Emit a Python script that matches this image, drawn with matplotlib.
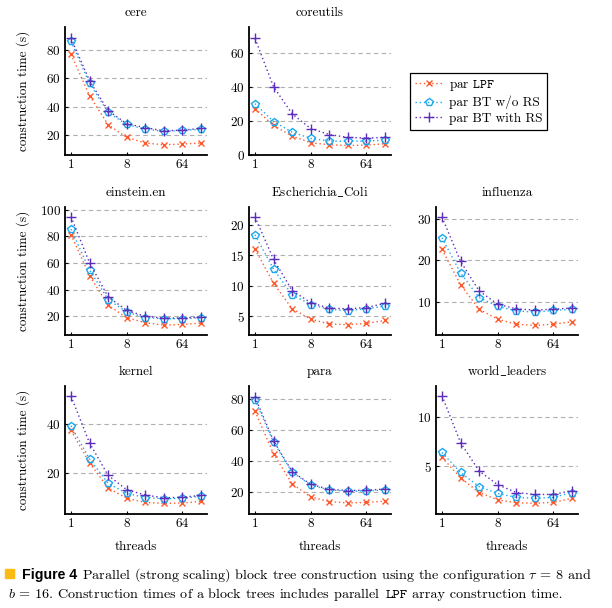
import matplotlib
matplotlib.use("Agg")
import matplotlib.pyplot as plt
from matplotlib.lines import Line2D
from matplotlib.patches import Rectangle

plt.rcParams["font.family"] = "serif"
plt.rcParams["font.serif"] = ["cmr10", "DejaVu Serif"]
plt.rcParams["mathtext.fontset"] = "cm"
plt.rcParams["axes.formatter.use_mathtext"] = True

threads = [1, 2, 4, 8, 16, 32, 64, 128]
series_names = ["par $\\mathtt{LPF}$", "par BT w/o RS", "par BT with RS"]
datasets = ["cere", "coreutils", "einstein.en", "Escherichia$\\_$Coli", "influenza",
            "kernel", "para", "world$\\_$leaders"]

# construction times (s): LPF, BT w/o RS, BT with RS
cere_lpf = [77.0, 47.7, 27.3, 18.4, 14.4, 13.2, 13.7, 14.4]
cere_bt = [85.9, 56.5, 35.9, 27.5, 24.2, 22.6, 23.3, 24.0]
cere_rs = [88.2, 58.2, 37.2, 28.0, 25.2, 23.0, 23.5, 24.7]

coreutils_lpf = [27.2, 17.3, 11.1, 7.2, 6.0, 5.6, 5.8, 6.6]
coreutils_bt = [30.1, 19.6, 13.4, 9.7, 8.2, 8.0, 8.2, 8.7]
coreutils_rs = [68.3, 40.0, 24.1, 15.5, 12.0, 10.3, 9.9, 10.3]

einstein_lpf = [81.3, 50.5, 28.3, 19.0, 15.2, 13.4, 13.9, 14.9]
einstein_bt = [85.4, 54.8, 32.6, 23.3, 19.0, 18.2, 18.2, 19.0]
einstein_rs = [94.7, 60.1, 34.6, 24.5, 20.0, 18.7, 18.7, 19.5]

ecoli_lpf = [16.0, 10.4, 6.2, 4.5, 3.7, 3.6, 3.8, 4.3]
ecoli_bt = [18.35, 12.7, 8.5, 6.9, 6.1, 5.9, 6.2, 6.65]
ecoli_rs = [21.3, 14.3, 9.2, 7.2, 6.3, 6.2, 6.4, 7.1]

influenza_lpf = [22.6, 14.1, 8.2, 5.8, 4.6, 4.3, 4.6, 5.2]
influenza_bt = [25.4, 16.9, 11.0, 8.9, 7.8, 7.5, 7.9, 8.2]
influenza_rs = [30.4, 19.7, 12.6, 9.4, 8.3, 8.0, 8.2, 8.5]

kernel_lpf = [37.3, 24.1, 13.9, 9.7, 8.0, 7.6, 7.8, 8.4]
kernel_bt = [39.2, 25.7, 15.8, 11.7, 10.0, 9.5, 9.7, 10.5]
kernel_rs = [51.3, 32.2, 19.0, 13.2, 11.0, 9.9, 10.1, 10.9]

para_lpf = [72.0, 44.5, 25.2, 16.8, 13.8, 12.9, 13.3, 14.0]
para_bt = [79.4, 52.0, 32.7, 24.5, 21.3, 20.4, 20.6, 21.3]
para_rs = [81.1, 52.9, 33.1, 24.9, 21.7, 20.9, 21.1, 21.9]

world_lpf = [5.9, 3.8, 2.3, 1.55, 1.25, 1.2, 1.3, 1.7]
world_bt = [6.4, 4.35, 2.9, 2.2, 1.8, 1.7, 1.8, 2.3]
world_rs = [12.2, 7.4, 4.5, 3.1, 2.3, 2.1, 2.1, 2.5]

all_series = [
    (cere_lpf, cere_bt, cere_rs),
    (coreutils_lpf, coreutils_bt, coreutils_rs),
    (einstein_lpf, einstein_bt, einstein_rs),
    (ecoli_lpf, ecoli_bt, ecoli_rs),
    (influenza_lpf, influenza_bt, influenza_rs),
    (kernel_lpf, kernel_bt, kernel_rs),
    (para_lpf, para_bt, para_rs),
    (world_lpf, world_bt, world_rs),
]
ylims = [(6, 96), (0, 75), (6, 102), (1.9, 22.9), (2.0, 32.8), (3.3, 55.4), (5.8, 88.2), (0.1, 13.2)]
yticks = [[20, 40, 60, 80], [0, 20, 40, 60], [20, 40, 60, 80, 100], [5, 10, 15, 20],
          [10, 20, 30], [20, 40], [20, 40, 60, 80], [5, 10]]

colors = ["#FF5A2E", "#1CA8EE", "#5B2DB8"]
markers = ["x", "p", "+"]
msizes = [4.2, 5.5, 6.5]

W, H = 612, 608
fig = plt.figure(figsize=(W / 100, H / 100), dpi=100)

col_left = [65, 249, 436]
row_top = [27, 207, 386]
aw, ah = 142, 128
slots = [(0, 0), (0, 1), (1, 0), (1, 1), (1, 2), (2, 0), (2, 1), (2, 2)]

for k, (r, c) in enumerate(slots):
    left, top = col_left[c], row_top[r]
    ax = fig.add_axes([left / W, 1 - (top + ah) / H, aw / W, ah / H])
    for s, ys in enumerate(all_series[k]):
        ax.plot(threads, ys, linestyle=(0, (1, 2)), lw=1.0, color=colors[s],
                marker=markers[s], ms=msizes[s], mew=1.0, fillstyle="none")
    ax.set_xscale("log", base=2)
    ax.set_xlim(0.8, 160)
    ax.set_xticks([1, 8, 64])
    ax.set_xticklabels(["1", "8", "64"])
    ax.minorticks_off()
    ax.set_ylim(*ylims[k])
    ax.set_yticks(yticks[k])
    ax.grid(axis="y", color="#b0b0b0", linestyle=(0, (4, 3)), lw=0.8)
    ax.set_axisbelow(True)
    for sp in ["top", "right"]:
        ax.spines[sp].set_visible(False)
    for sp in ["left", "bottom"]:
        ax.spines[sp].set_linewidth(1.3)
    ax.tick_params(direction="in", length=2.5, labelsize=9.5, pad=3)
    ax.set_title(datasets[k], fontsize=9.5, pad=8)
    if c == 0:
        ax.set_ylabel("construction time (s)", fontsize=9.5)
        ax.yaxis.set_label_coords(-35 / aw, 0.5)
    if r == 2:
        ax.set_xlabel("threads", fontsize=9.5)
        ax.xaxis.set_label_coords(0.5, -27 / ah)

handles = [Line2D([], [], linestyle=(0, (1, 2)), lw=1.0, color=colors[s], marker=markers[s],
                  ms=msizes[s], mew=1.0, fillstyle="none") for s in range(3)]
leg = fig.legend(handles, series_names, loc="upper left",
                 bbox_to_anchor=(410 / W, 1 - 73 / H), fontsize=9.5, fancybox=False,
                 edgecolor="black", framealpha=1, handlelength=2.2, handletextpad=0.4,
                 borderpad=0.35, labelspacing=0.25, borderaxespad=0)
leg.get_frame().set_linewidth(0.9)

# caption
fig.patches.append(Rectangle((5 / W, 1 - 578 / H), 9 / W, 9 / H, transform=fig.transFigure,
                             color="#FDBA12", figure=fig))
renderer = fig.canvas.get_renderer()
cap_size = 10.2


def write_line(pieces, x, y):
    space = fig.text(0, 0, "a a", fontsize=cap_size).get_window_extent(renderer=renderer).width \
        - fig.text(0, 0, "aa", fontsize=cap_size).get_window_extent(renderer=renderer).width
    for t in fig.texts[-2:]:
        t.remove()
    for txt, kw in pieces:
        lead = len(txt) - len(txt.lstrip(" "))
        x += lead * space
        t = fig.text(x / W, 1 - y / H, txt.strip(" "), va="baseline", ha="left",
                     fontsize=cap_size, **kw)
        x += t.get_window_extent(renderer=renderer).width
        x += (len(txt) - len(txt.rstrip(" "))) * space


sans_bold = dict(family="Liberation Sans", weight="bold")
write_line([("Figure 4", sans_bold),
            (" Parallel (strong scaling) block tree construction using the configuration $\\tau$ = 8 and", {})],
           22, 579)
write_line([("$b$ = 16. Construction times of a block trees includes parallel ", {}),
            ("LPF", dict(family=["cmtt10", "monospace"])),
            (" array construction time.", {})],
           8, 598)

fig.savefig("out.png", dpi=100)
